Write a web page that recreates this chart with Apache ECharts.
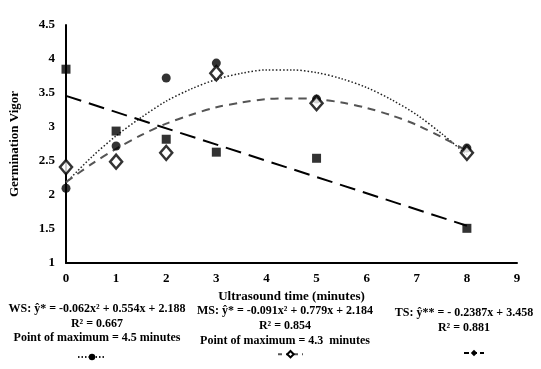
<!DOCTYPE html>
<html>
<head>
<meta charset="utf-8">
<script src="https://cdn.jsdelivr.net/npm/echarts@6/dist/echarts.min.js"></script>
<style>
  html, body { margin: 0; padding: 0; background: #fff; }
  #chart { width: 541px; height: 369px; }
</style>
</head>
<body>
<div id="chart"></div>
<script>
// 超声时间（分钟）
var xTimes = [0, 1, 2, 3, 5, 8];
// 观测值
var wsValues = [2.10, 2.72, 3.72, 3.94, 3.41, 2.69];
var msValues = [2.41, 2.49, 2.62, 3.79, 3.35, 2.62];
var tsValues = [3.85, 2.94, 2.82, 2.63, 2.54, 1.51];
// 趋势线
var curveX = [0, 0.5, 1, 1.5, 2, 2.5, 3, 3.5, 4, 4.5, 5, 5.5, 6, 6.5, 7, 7.5, 8];
var wsCurve = [2.18, 2.55, 2.87, 3.14, 3.38, 3.56, 3.70, 3.79, 3.84, 3.84, 3.80, 3.71, 3.58, 3.40, 3.18, 2.90, 2.59];
var msCurve = [2.19, 2.45, 2.68, 2.88, 3.05, 3.18, 3.29, 3.36, 3.41, 3.42, 3.41, 3.36, 3.28, 3.17, 3.03, 2.85, 2.65];
var tsLineX = [0, 8];
var tsLine = [3.458, 1.548];
// 图例文字
var wsText = ['WS: ŷ* = -0.062x² + 0.554x + 2.188', 'R² = 0.667', 'Point of maximum = 4.5 minutes'];
var msText = ['MS: ŷ* = -0.091x² + 0.779x + 2.184', 'R² = 0.854', 'Point of maximum = 4.3  minutes'];
var tsText = ['TS: ŷ** = - 0.2387x + 3.458', 'R² = 0.881'];

function pairs(xs, ys) {
  return xs.map(function (x, i) { return [x, ys[i]]; });
}

var font = 'Liberation Serif';

function textBlock(lines, cx, y0, step) {
  return lines.map(function (t, i) {
    return {
      type: 'text',
      x: cx,
      y: y0 + i * step,
      style: {
        text: t,
        fill: '#000',
        font: 'bold 12px "' + font + '"',
        textAlign: 'center',
        textVerticalAlign: 'middle'
      }
    };
  });
}

var graphics = []
  .concat(textBlock(wsText, 97, 309, 14.5))
  .concat(textBlock(msText, 285, 311, 15))
  .concat(textBlock(tsText, 464, 313, 15));

var noText = function () { return ''; };

var option = {
  backgroundColor: '#fff',
  animation: false,
  grid: { left: 57, right: 24, top: 25, bottom: 106 },
  xAxis: {
    type: 'value',
    min: 0,
    max: 9,
    interval: 1,
    name: 'Ultrasound time (minutes)',
    nameLocation: 'middle',
    nameGap: 26,
    nameTextStyle: { fontFamily: font, fontWeight: 'bold', fontSize: 13, color: '#000' },
    axisLine: { lineStyle: { color: '#000', width: 2 } },
    axisTick: { show: false },
    splitLine: { show: false },
    axisLabel: { fontFamily: font, fontWeight: 'bold', fontSize: 13, color: '#000', margin: 9 }
  },
  yAxis: {
    type: 'value',
    min: 1,
    max: 4.5,
    interval: 0.5,
    name: 'Germination Vigor',
    nameLocation: 'middle',
    nameGap: 45,
    nameTextStyle: { fontFamily: font, fontWeight: 'bold', fontSize: 13, color: '#000' },
    axisLine: { show: true, lineStyle: { color: '#000', width: 2 } },
    axisTick: { show: false },
    splitLine: { show: false },
    axisLabel: { fontFamily: font, fontWeight: 'bold', fontSize: 13, color: '#000', margin: 11 }
  },
  legend: [
    { data: ['WS'], left: 72, top: 348, itemWidth: 28, itemHeight: 8, itemGap: 0, formatter: noText },
    { data: ['MS'], left: 272, top: 345, itemWidth: 25, itemHeight: 8, itemGap: 0, formatter: noText,
      lineStyle: { type: [4, 4] } },
    { data: ['TS'], left: 458, top: 344, itemWidth: 20, itemHeight: 8, itemGap: 0, formatter: noText,
      lineStyle: { type: [5, 3] } }
  ],
  graphic: graphics,
  series: [
    {
      name: 'WS',
      type: 'line',
      smooth: 0.3,
      data: pairs(curveX, wsCurve),
      showSymbol: false,
      symbol: 'circle',
      symbolSize: 7,
      itemStyle: { color: '#000' },
      lineStyle: { color: '#222', width: 1.5, type: [1.5, 2] },
      z: 2
    },
    {
      name: 'MS',
      type: 'line',
      smooth: 0.3,
      data: pairs(curveX, msCurve),
      showSymbol: false,
      symbol: 'diamond',
      symbolSize: 7,
      itemStyle: { color: '#fff', borderColor: '#000', borderWidth: 1.5 },
      lineStyle: { color: '#555', width: 2, type: [8, 6] },
      z: 2
    },
    {
      name: 'TS',
      type: 'line',
      data: pairs(tsLineX, tsLine),
      showSymbol: false,
      symbol: 'diamond',
      symbolSize: 6,
      itemStyle: { color: '#000' },
      lineStyle: { color: '#000', width: 2, type: [16, 8] },
      z: 2
    },
    {
      name: 'WS pts',
      type: 'scatter',
      data: pairs(xTimes, wsValues),
      symbol: 'circle',
      symbolSize: 9,
      itemStyle: { color: '#000' },
      z: 3
    },
    {
      name: 'MS pts',
      type: 'scatter',
      data: pairs(xTimes, msValues),
      symbol: 'diamond',
      symbolSize: [12, 14],
      itemStyle: { color: '#fff', borderColor: '#000', borderWidth: 2.5 },
      z: 4
    },
    {
      name: 'TS pts',
      type: 'scatter',
      data: pairs(xTimes, tsValues),
      symbol: 'rect',
      symbolSize: 9,
      itemStyle: { color: '#000' },
      z: 3
    }
  ]
};

var myChart = echarts.init(document.getElementById('chart'));
myChart.setOption(option);
window.addEventListener('resize', function () {
  myChart.resize();
});
</script>
</body>
</html>
